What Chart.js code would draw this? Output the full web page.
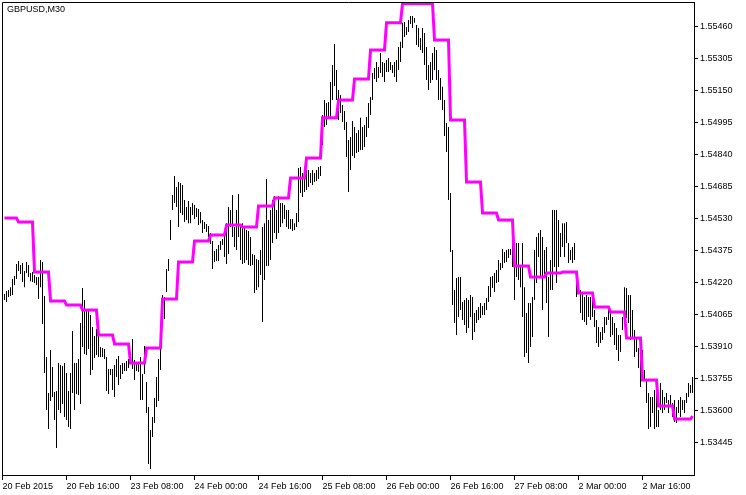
<!DOCTYPE html>
<html>
<head>
<meta charset="utf-8">
<script src="https://cdn.jsdelivr.net/npm/chart.js@4.4.1/dist/chart.umd.min.js"></script>
<style>
  html, body { margin: 0; padding: 0; background: #fff; }
  #wrap { position: relative; width: 746px; height: 495px; }
  #title { position: absolute; left: 7px; top: 4px; font: 9px 'Liberation Sans', Arial, sans-serif; line-height: 10px; color: #000; }
</style>
</head>
<body>
<div id="wrap">
  <canvas id="chart" width="746" height="495"></canvas>
  <div id="title">GBPUSD,M30</div>
</div>
<script>
// M30 bars (index 0 = first visible bar)
const barHigh = [
  1.54167,1.54181,1.54186,1.54200,1.54239,1.54254,1.54312,1.54326,1.54307,1.54317,
  1.54278,1.54322,1.54307,1.54268,1.54273,1.54259,1.54249,1.54249,1.54331,1.54322,
  1.54157,1.53862,1.53687,1.53896,1.53813,1.53692,1.53697,1.53833,1.53823,1.53818,
  1.53833,1.53784,1.53697,1.53784,1.53988,1.53833,1.53833,1.53852,1.54026,1.54196,
  1.54138,1.54089,1.54084,1.54065,1.54007,1.53963,1.53997,1.53968,1.53910,1.53905,
  1.53900,1.53862,1.53804,1.53804,1.53804,1.53823,1.53852,1.53867,1.53823,1.53833,
  1.53833,1.53842,1.53852,1.53881,1.53949,1.53847,1.53828,1.53833,1.53862,1.53779,
  1.53915,1.53740,1.53619,1.53508,1.53571,1.53663,1.53765,1.53852,1.53992,1.54162,
  1.54152,1.54288,1.54336,1.54525,1.54646,1.54738,1.54685,1.54709,1.54704,1.54695,
  1.54622,1.54588,1.54617,1.54588,1.54607,1.54598,1.54583,1.54578,1.54564,1.54525,
  1.54515,1.54506,1.54496,1.54462,1.54423,1.54375,1.54385,1.54404,1.54423,1.54433,
  1.54448,1.54510,1.54588,1.54574,1.54646,1.54491,1.54574,1.54651,1.54491,1.54510,
  1.54491,1.54477,1.54472,1.54443,1.54360,1.54356,1.54336,1.54331,1.54380,1.54491,
  1.54510,1.54724,1.54525,1.54574,1.54622,1.54641,1.54574,1.54641,1.54607,1.54607,
  1.54598,1.54574,1.54574,1.54530,1.54530,1.54510,1.54559,1.54777,1.54782,1.54753,
  1.54733,1.54767,1.54767,1.54753,1.54767,1.54753,1.54767,1.54782,1.54787,1.55034,
  1.55106,1.55092,1.55097,1.55194,1.55276,1.55378,1.55252,1.55155,1.55131,1.55082,
  1.55053,1.55000,1.54913,1.54927,1.55005,1.54976,1.54947,1.54961,1.55020,1.54976,
  1.54985,1.55024,1.55092,1.55121,1.55237,1.55262,1.55291,1.55266,1.55334,1.55291,
  1.55286,1.55300,1.55310,1.55291,1.55276,1.55291,1.55300,1.55363,1.55388,1.55480,
  1.55484,1.55460,1.55494,1.55513,1.55513,1.55504,1.55470,1.55455,1.55407,1.55455,
  1.55431,1.55363,1.55276,1.55291,1.55334,1.55363,1.55349,1.55252,1.55213,1.55170,
  1.55106,1.54995,1.54976,1.54656,1.54380,1.54186,1.54244,1.54249,1.54249,1.54128,
  1.54138,1.54147,1.54138,1.54162,1.54152,1.54075,1.54089,1.54104,1.54123,1.54109,
  1.54123,1.54147,1.54205,1.54249,1.54254,1.54268,1.54283,1.54331,1.54317,1.54385,
  1.54370,1.54380,1.54385,1.54385,1.54462,1.54380,1.54414,1.54414,1.54298,1.54414,
  1.54200,1.54075,1.54123,1.54123,1.54152,1.54380,1.54443,1.54462,1.54477,1.54443,
  1.54380,1.54394,1.54249,1.54331,1.54574,1.54574,1.54574,1.54525,1.54462,1.54510,
  1.54510,1.54515,1.54414,1.54380,1.54394,1.54414,1.54259,1.54220,1.54186,1.54172,
  1.54152,1.54162,1.54152,1.54152,1.54152,1.54089,1.54041,1.54007,1.53983,1.54007,
  1.54055,1.54055,1.54089,1.54079,1.54055,1.54026,1.54002,1.53968,1.53968,1.54055,
  1.54200,1.54196,1.54162,1.54162,1.54089,1.53992,1.53958,1.53905,1.53857,1.53896,
  1.53799,1.53750,1.53687,1.53668,1.53668,1.53702,1.53750,1.53605,1.53736,1.53702,
  1.53668,1.53687,1.53653,1.53677,1.53639,1.53653,1.53619,1.53653,1.53668,1.53653,
  1.53653,1.53687,1.53736,1.53726,1.53765
];
const barLow = [
  1.54138,1.54128,1.54152,1.54157,1.54162,1.54210,1.54239,1.54278,1.54263,1.54225,
  1.54200,1.54268,1.54249,1.54229,1.54225,1.54220,1.54210,1.54142,1.54200,1.54021,
  1.53784,1.53605,1.53513,1.53648,1.53668,1.53556,1.53421,1.53605,1.53590,1.53634,
  1.53571,1.53556,1.53522,1.53513,1.53687,1.53605,1.53682,1.53677,1.53634,1.53910,
  1.53876,1.53871,1.53900,1.53774,1.53799,1.53857,1.53871,1.53862,1.53862,1.53862,
  1.53852,1.53697,1.53682,1.53774,1.53702,1.53668,1.53765,1.53726,1.53755,1.53779,
  1.53794,1.53794,1.53808,1.53833,1.53804,1.53750,1.53794,1.53789,1.53653,1.53653,
  1.53779,1.53590,1.53343,1.53319,1.53474,1.53542,1.53619,1.53648,1.53799,1.54041,
  1.54046,1.54176,1.54278,1.54428,1.54574,1.54608,1.54588,1.54491,1.54559,1.54549,
  1.54515,1.54525,1.54510,1.54510,1.54549,1.54530,1.54540,1.54501,1.54510,1.54462,
  1.54482,1.54467,1.54443,1.54409,1.54288,1.54322,1.54327,1.54327,1.54380,1.54404,
  1.54346,1.54312,1.54360,1.54491,1.54443,1.54394,1.54380,1.54443,1.54331,1.54312,
  1.54317,1.54331,1.54307,1.54302,1.54307,1.54172,1.54186,1.54200,1.54259,1.54031,
  1.54235,1.54302,1.54302,1.54331,1.54414,1.54462,1.54433,1.54462,1.54491,1.54510,
  1.54530,1.54491,1.54481,1.54481,1.54472,1.54477,1.54491,1.54515,1.54656,1.54637,
  1.54661,1.54670,1.54685,1.54704,1.54695,1.54709,1.54714,1.54724,1.54738,1.54888,
  1.54976,1.54985,1.55014,1.55024,1.55106,1.55174,1.55106,1.55010,1.55043,1.55000,
  1.54961,1.54830,1.54661,1.54767,1.54835,1.54826,1.54850,1.54855,1.54864,1.54864,
  1.54879,1.54927,1.54971,1.55034,1.55106,1.55208,1.55194,1.55213,1.55237,1.55218,
  1.55194,1.55242,1.55242,1.55252,1.55237,1.55218,1.55194,1.55252,1.55291,1.55358,
  1.55412,1.55421,1.55436,1.55475,1.55455,1.55480,1.55373,1.55363,1.55349,1.55334,
  1.55276,1.55203,1.55155,1.55189,1.55203,1.55252,1.55203,1.55106,1.55106,1.55058,
  1.54932,1.54855,1.54622,1.54370,1.54113,1.54026,1.53968,1.54055,1.54089,1.54041,
  1.54017,1.53978,1.54002,1.54055,1.53944,1.53983,1.54026,1.54041,1.54050,1.54065,
  1.54065,1.54089,1.54128,1.54152,1.54196,1.54176,1.54220,1.54225,1.54283,1.54293,
  1.54317,1.54322,1.54341,1.54356,1.54298,1.54138,1.54249,1.54235,1.54200,1.54055,
  1.53862,1.53881,1.53833,1.53910,1.53958,1.54138,1.54220,1.54346,1.54249,1.54089,
  1.54249,1.54123,1.53958,1.54186,1.54186,1.54298,1.54220,1.54298,1.54346,1.54394,
  1.54346,1.54414,1.54317,1.54331,1.54317,1.54331,1.54152,1.54172,1.54075,1.54041,
  1.54031,1.54017,1.54055,1.54041,1.54055,1.54007,1.53929,1.53910,1.53929,1.53944,
  1.53978,1.54017,1.54041,1.53958,1.53968,1.53920,1.53896,1.53842,1.53886,1.53992,
  1.54065,1.54050,1.54026,1.53944,1.53958,1.53862,1.53886,1.53808,1.53716,1.53833,
  1.53750,1.53639,1.53513,1.53522,1.53590,1.53513,1.53522,1.53522,1.53605,1.53590,
  1.53605,1.53639,1.53590,1.53619,1.53571,1.53547,1.53542,1.53590,1.53571,1.53605,
  1.53590,1.53639,1.53668,1.53687,1.53687
];

// magenta H4 line: bar index where each level starts, and its level
const h4Start = [0,7,15,23,31,39,47,55,63,71,79,87,95,103,111,119,127,135,143,151,159,167,
  175,183,191,199,207,215,223,231,239,247,255,263,271,279,287,295,303,311,319,327,335,344];
const h4Level = [
  1.54535,1.54515,1.54273,1.54133,1.54113,1.54089,1.53968,1.53925,1.53833,1.53905,
  1.54142,1.54322,1.54423,1.54452,1.54501,1.54491,1.54593,1.54632,1.54729,1.54826,
  1.55020,1.55106,1.55208,1.55349,1.55480,1.55574,1.55574,1.55397,1.55010,1.54709,
  1.54559,1.54525,1.54302,1.54249,1.54268,1.54273,1.54172,1.54104,1.54079,1.53954,
  1.53750,1.53624,1.53561,1.53576
];

const priceTicks = [1.53445,1.53600,1.53755,1.53910,1.54065,1.54220,1.54375,
  1.54530,1.54685,1.54840,1.54995,1.55150,1.55305,1.55460];
const tickBars = [-1,31,63,95,127,159,191,223,255,287,319];
const tickText = ['20 Feb 2015','20 Feb 16:00','23 Feb 08:00','24 Feb 00:00','24 Feb 16:00',
  '25 Feb 08:00','26 Feb 00:00','26 Feb 16:00','27 Feb 08:00','2 Mar 00:00','2 Mar 16:00'];

Chart.defaults.font.family = "'Liberation Sans', Arial, sans-serif";
Chart.defaults.font.size = 9;
Chart.defaults.color = '#000';

// level held across each block, then a short slant to the next one
const h4Points = [];
h4Start.forEach((s, j) => {
  const end = j + 1 < h4Start.length ? h4Start[j + 1] - 1 : s;
  h4Points.push({ x: s, y: h4Level[j] });
  if (end > s) h4Points.push({ x: end, y: h4Level[j] });
});

// left + top edge of the plot box
const frame = {
  id: 'frame',
  afterDraw(chart) {
    const { ctx, chartArea: a } = chart;
    ctx.save();
    ctx.strokeStyle = '#000';
    ctx.lineWidth = 1;
    ctx.beginPath();
    ctx.moveTo(a.left + 0.5, a.bottom);
    ctx.lineTo(a.left + 0.5, a.top + 0.5);
    ctx.lineTo(a.right, a.top + 0.5);
    ctx.stroke();
    ctx.restore();
  }
};

// no label padding, the plot box is fixed
function noPad(s) {
  s.paddingTop = 0; s.paddingBottom = 0; s.paddingLeft = 0; s.paddingRight = 0;
}

new Chart(document.getElementById('chart'), {
  type: 'bar',
  data: {
    datasets: [
      { type: 'line', data: h4Points, borderColor: '#ff00ff', borderWidth: 3,
        pointRadius: 0, tension: 0, fill: false, borderJoinStyle: 'miter', order: 1 },
      { type: 'bar', data: barHigh.map((h, i) => ({ x: i, y: [barLow[i], h] })),
        backgroundColor: '#000', borderWidth: 0, barThickness: 1, inflateAmount: 0,
        grouped: false, order: 2 }
    ]
  },
  options: {
    responsive: false, animation: false, devicePixelRatio: 1, events: [],
    layout: { padding: { left: 2, top: 2, right: 0, bottom: 0 } },
    plugins: { legend: { display: false }, tooltip: { enabled: false } },
    scales: {
      x: {
        type: 'linear', position: 'bottom', min: -1.25, max: 344.75, offset: false,
        afterBuildTicks: s => { s.ticks = tickBars.map(v => ({ value: v })); },
        afterFit: s => { s.height = 20; noPad(s); },
        grid: { drawOnChartArea: false, tickLength: 5, color: '#000', offset: false },
        border: { display: true, color: '#000' },
        ticks: { autoSkip: false, maxRotation: 0, align: 'start', padding: 1,
                 callback: (v, i) => tickText[i] }
      },
      y: {
        type: 'linear', position: 'right', min: 1.53290, max: 1.5558109, beginAtZero: false,
        afterBuildTicks: s => { s.ticks = priceTicks.map(v => ({ value: v })); },
        afterFit: s => { s.width = 52; noPad(s); },
        grid: { drawOnChartArea: false, tickLength: 4, color: '#000' },
        border: { display: true, color: '#000' },
        ticks: { padding: 2, callback: v => v.toFixed(5) }
      }
    }
  },
  plugins: [frame]
});
</script>
</body>
</html>
